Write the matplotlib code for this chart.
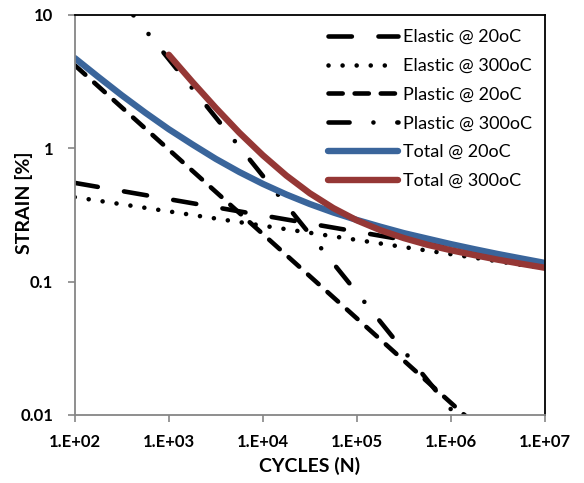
import matplotlib
matplotlib.use("Agg")
import matplotlib.pyplot as plt

plt.rcParams['font.family'] = ['Lato', 'DejaVu Sans']

# values (strain in %, vs cycles)
x_lin = [1e2, 1e7]
elastic_20 = [0.55, 0.135]
elastic_300 = [0.43, 0.1255]
plastic_20 = [4.2, 0.00287]
plastic_300 = [35.0, 0.00147]

x_tot20 = [1e2, 1.78e2, 3.16e2, 5.62e2, 1e3, 1.78e3, 3.16e3, 5.62e3, 1e4, 1.78e4, 3.16e4,
           5.62e4, 1e5, 1.78e5, 3.16e5, 5.62e5, 1e6, 1.78e6, 3.16e6, 5.62e6, 1e7]
total_20 = [4.75, 3.43, 2.50, 1.85, 1.39, 1.07, 0.833, 0.664, 0.541, 0.450, 0.382,
            0.330, 0.290, 0.258, 0.231, 0.210, 0.191, 0.175, 0.161, 0.149, 0.138]

x_tot300 = [1e3, 1.78e3, 3.16e3, 5.62e3, 1e4, 1.78e4, 3.16e4, 5.62e4, 1e5, 1.78e5,
            3.16e5, 5.62e5, 1e6, 1.78e6, 3.16e6, 5.62e6, 1e7]
total_300 = [5.03, 3.15, 2.01, 1.31, 0.887, 0.624, 0.460, 0.356, 0.288, 0.243,
             0.212, 0.189, 0.172, 0.158, 0.146, 0.136, 0.127]

xticks = [1e2, 1e3, 1e4, 1e5, 1e6, 1e7]
xlabels = ['1.E+02', '1.E+03', '1.E+04', '1.E+05', '1.E+06', '1.E+07']
yticks = [0.01, 0.1, 1, 10]
ylabels = ['0.01', '0.1', '1', '10']

fig = plt.figure(figsize=(5.84, 4.83), dpi=100)
ax = fig.add_axes([0.128, 0.141, 0.805, 0.828])

lw = 3.3
ax.plot(x_lin, elastic_20, color='black', lw=lw, dashes=(5.1, 5.8), dash_capstyle='round',
        label='Elastic @ 20oC')
ax.plot(x_lin, elastic_300, color='black', lw=lw, dashes=(0.01, 3.06), dash_capstyle='round',
        label='Elastic @ 300oC')
ax.plot(x_lin, plastic_20, color='black', lw=lw, dashes=(3.1, 2.6), dash_capstyle='round',
        label='Plastic @ 20oC')
ax.plot(x_lin, plastic_300, color='black', lw=lw, dashes=(4.6, 5.2, 0.01, 5.2), dash_capstyle='round',
        label='Plastic @ 300oC')
ax.plot(x_tot20, total_20, color='#3A659B', lw=4.6, solid_capstyle='round', label='Total @ 20oC')
ax.plot(x_tot300, total_300, color='#953735', lw=4.6, solid_capstyle='round', label='Total @ 300oC')

ax.set_xscale('log')
ax.set_yscale('log')
ax.set_xlim(1e2, 1e7)
ax.set_ylim(0.01, 10)
ax.set_xticks(xticks)
ax.set_xticklabels(xlabels)
ax.set_yticks(yticks)
ax.set_yticklabels(ylabels)
ax.minorticks_off()
ax.tick_params(axis='both', length=5, width=1.2, color='#868686', labelsize=12)
ax.tick_params(axis='y', pad=10.5)
ax.tick_params(axis='x', pad=9)
for t in ax.get_xticklabels() + ax.get_yticklabels():
    t.set_fontweight('bold')

for s in ['left', 'bottom']:
    ax.spines[s].set_color('#868686')
    ax.spines[s].set_linewidth(1.3)
for s in ['top', 'right']:
    ax.spines[s].set_color('black')
    ax.spines[s].set_linewidth(1.3)

ax.set_xlabel('CYCLES (N)', fontsize=14, fontweight='bold', labelpad=5)
ax.set_ylabel('STRAIN [%]', fontsize=14, fontweight='bold')
ax.yaxis.set_label_coords(-0.089, 0.53)

leg = ax.legend(loc='upper left', bbox_to_anchor=(328 / 584, 1 - 29 / 483),
                bbox_transform=fig.transFigure, borderaxespad=0, borderpad=0,
                fontsize=13, handlelength=3.88, handletextpad=0.28, labelspacing=0.71,
                frameon=False)

plt.savefig('out.png', dpi=100)
